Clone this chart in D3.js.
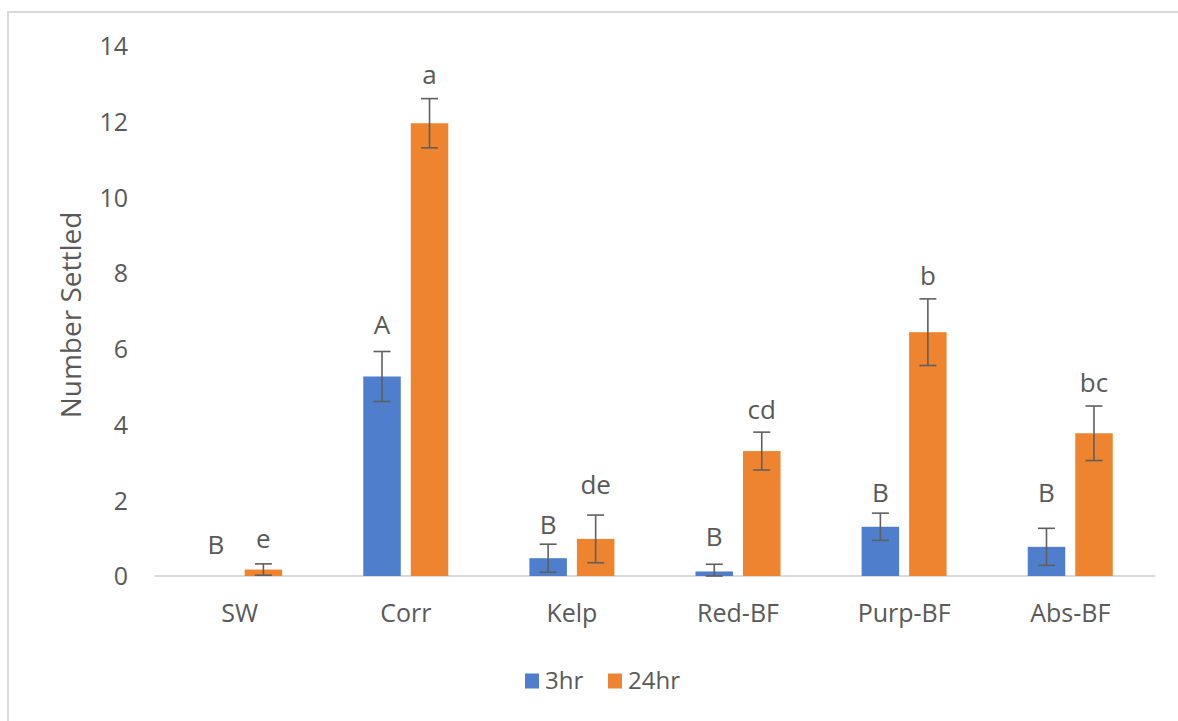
<!DOCTYPE html>
<html>
<head>
<meta charset="utf-8">
<script src="https://cdn.jsdelivr.net/npm/d3@7"></script>
<style>
  html, body { margin: 0; padding: 0; background: #ffffff; }
  svg { display: block; }
  text { font-family: "Open Sans", "Noto Sans", sans-serif; fill: #595959; }
</style>
</head>
<body>
<svg id="chart" width="1178" height="721"></svg>
<script>
// ---- data ----
const categories = ["SW", "Corr", "Kelp", "Red-BF", "Purp-BF", "Abs-BF"];
const seriesNames = ["3hr", "24hr"];
const values3hr  = [0, 5.27, 0.47, 0.12, 1.30, 0.77];
const errors3hr  = [0, 0.66, 0.37, 0.19, 0.36, 0.49];
const values24hr = [0.17, 11.96, 0.98, 3.30, 6.44, 3.77];
const errors24hr = [0.15, 0.65, 0.63, 0.50, 0.88, 0.72];
const letters3hr  = ["B", "A", "B", "B", "B", "B"];
const letters24hr = ["e", "a", "de", "cd", "b", "bc"];
// vertical placement of the significance letters, in data units
const letterPos3hr  = [0.82, 6.63, 1.35, 1.04, 2.19, 2.19];
const letterPos24hr = [0.98, 13.23, 2.40, 4.38, 7.92, 5.10];
const yTicks = [0, 2, 4, 6, 8, 10, 12, 14];

const colors = ["#4F7FCC", "#EE842F"];

const svg = d3.select("#chart");

// chart border (extends beyond right / bottom edges)
svg.append("rect")
  .attr("x", 8).attr("y", 12)
  .attr("width", 1200).attr("height", 760)
  .attr("fill", "none")
  .attr("stroke", "#d9d9d9")
  .attr("stroke-width", 2);

const x0 = d3.scaleBand().domain(categories).range([156.6, 1153.3]).paddingInner(0).paddingOuter(0);
const y = d3.scaleLinear().domain([0, 14]).range([576, 46]);

const barW = 37.5, gap = 10;
const offset = i => (i === 0 ? -(gap / 2 + barW) : gap / 2);

const rows = categories.map((c, k) => ({
  cat: c,
  vals: [
    { s: 0, v: values3hr[k],  e: errors3hr[k],  l: letters3hr[k],  lp: letterPos3hr[k] },
    { s: 1, v: values24hr[k], e: errors24hr[k], l: letters24hr[k], lp: letterPos24hr[k] }
  ]
}));

// y tick labels (no axis line, no gridlines)
const yAxis = d3.axisLeft(y).tickValues(yTicks).tickSize(0).tickPadding(0);
const gy = svg.append("g").attr("transform", "translate(128,0)").call(yAxis);
gy.select(".domain").remove();
gy.selectAll("text")
  .attr("font-size", 25)
  .attr("font-family", "'Open Sans', sans-serif")
  .attr("fill", "#595959")
  .attr("dy", "0.35em");

// baseline
svg.append("line")
  .attr("x1", x0.range()[0] - 2).attr("x2", x0.range()[1] + 2)
  .attr("y1", y(0)).attr("y2", y(0))
  .attr("stroke", "#d9d9d9").attr("stroke-width", 2);

// category labels
const xAxis = d3.axisBottom(x0).tickSize(0).tickPadding(0);
const gx = svg.append("g").attr("transform", `translate(0,${613})`).call(xAxis);
gx.select(".domain").remove();
gx.selectAll("text")
  .attr("font-size", 25)
  .attr("font-family", "'Open Sans', sans-serif")
  .attr("fill", "#595959")
  .attr("dy", "0.35em");

// bars
const groups = svg.selectAll("g.cat").data(rows).join("g")
  .attr("class", "cat")
  .attr("transform", d => `translate(${x0(d.cat) + x0.bandwidth() / 2},0)`);

groups.selectAll("rect.bar").data(d => d.vals.filter(v => v.v > 0)).join("rect")
  .attr("class", "bar")
  .attr("x", d => offset(d.s))
  .attr("width", barW)
  .attr("y", d => y(d.v))
  .attr("height", d => y(0) - y(d.v))
  .attr("fill", d => colors[d.s]);

// error bars
const eb = groups.selectAll("g.err").data(d => d.vals.filter(v => v.e > 0)).join("g")
  .attr("class", "err")
  .attr("transform", d => `translate(${offset(d.s) + barW / 2},0)`)
  .attr("stroke", "#5f5f5f").attr("stroke-width", 1.6);
eb.append("line").attr("x1", 0).attr("x2", 0)
  .attr("y1", d => y(d.v + d.e)).attr("y2", d => y(Math.max(0, d.v - d.e)));
eb.append("line").attr("x1", -8.5).attr("x2", 8.5)
  .attr("y1", d => y(d.v + d.e)).attr("y2", d => y(d.v + d.e));
eb.append("line").attr("x1", -8.5).attr("x2", 8.5)
  .attr("y1", d => y(Math.max(0, d.v - d.e))).attr("y2", d => y(Math.max(0, d.v - d.e)));

// significance letters
groups.selectAll("text.letter").data(d => d.vals).join("text")
  .attr("class", "letter")
  .attr("x", d => offset(d.s) + barW / 2)
  .attr("y", d => y(d.lp))
  .attr("dy", "0.35em")
  .attr("text-anchor", "middle")
  .attr("font-size", 26)
  .text(d => d.l);

// y-axis title
svg.append("text")
  .attr("transform", `translate(71,${315}) rotate(-90)`)
  .attr("text-anchor", "middle")
  .attr("dy", "0.35em")
  .attr("font-size", 28)
  .text("Number Settled");

// legend
const legendX = [525, 608];
const lg = svg.selectAll("g.legend").data(seriesNames).join("g")
  .attr("class", "legend")
  .attr("transform", (d, i) => `translate(${legendX[i]},681)`);
lg.append("rect").attr("x", 0).attr("y", -7.5).attr("width", 14).attr("height", 15)
  .attr("fill", (d, i) => colors[i]);
lg.append("text").attr("x", 20).attr("dy", "0.35em").attr("font-size", 24).text(d => d);
</script>
</body>
</html>
